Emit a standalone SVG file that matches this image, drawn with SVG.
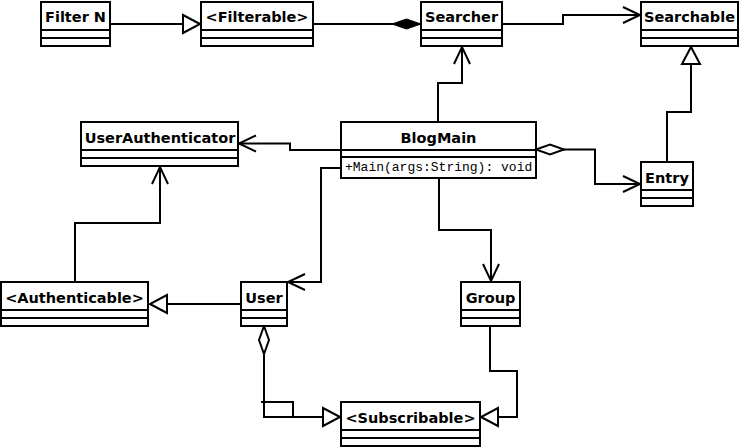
<svg xmlns="http://www.w3.org/2000/svg" width="740" height="448" viewBox="0 0 740 448">
<style>
.box{fill:#fff;stroke:#000;stroke-width:2}
.div{stroke:#000;stroke-width:2}
.name{font-family:"DejaVu Sans","Liberation Sans",sans-serif;font-weight:bold;font-size:14.5px;text-anchor:middle;fill:#000}
.op{font-family:"Liberation Mono","DejaVu Sans Mono",monospace;font-size:13px;fill:#000}
.edge{fill:none;stroke:#000;stroke-width:2}
</style>
<defs>
<marker id="open" markerUnits="userSpaceOnUse" viewBox="-20 -11 24 22" refX="0" refY="0" markerWidth="24" markerHeight="22" orient="auto" overflow="visible">
<path d="M-17,-8 L0,0 L-17,8" fill="none" stroke="#000" stroke-width="2"/>
</marker>
<marker id="tri" markerUnits="userSpaceOnUse" viewBox="-20 -11 24 22" refX="0" refY="0" markerWidth="24" markerHeight="22" orient="auto" overflow="visible">
<path d="M0,0 L-17,-9 L-17,9 Z" fill="#fff" stroke="#000" stroke-width="2"/>
</marker>
<marker id="diamondFilled" markerUnits="userSpaceOnUse" viewBox="-2 -7 32 14" refX="0" refY="0" markerWidth="32" markerHeight="14" orient="auto" overflow="visible">
<path d="M0,0 L14.5,-5 L29,0 L14.5,5 Z" fill="#000" stroke="#000" stroke-width="1"/>
</marker>
<marker id="diamondOpen" markerUnits="userSpaceOnUse" viewBox="-2 -7 32 14" refX="0" refY="0" markerWidth="32" markerHeight="14" orient="auto" overflow="visible">
<path d="M0,0 L14,-5 L28,0 L14,5 Z" fill="#fff" stroke="#000" stroke-width="2"/>
</marker>
</defs>
<rect width="740" height="448" fill="#fff"/>
<g id="connectors">
<path class="edge" d="M110,24 H200" marker-end="url(#tri)"/>
<path class="edge" d="M421,24 H313" marker-start="url(#diamondFilled)"/>
<path class="edge" d="M502,24 H563 V15 H640" marker-end="url(#open)"/>
<path class="edge" d="M438,122 V83 H462 V47" marker-end="url(#open)"/>
<path class="edge" d="M667,162 V112 H691 V47" marker-end="url(#tri)"/>
<path class="edge" d="M341,150 H290 V143.5 H239" marker-end="url(#open)"/>
<path class="edge" d="M536,149.5 H595 V184 H640" marker-start="url(#diamondOpen)" marker-end="url(#open)"/>
<path class="edge" d="M341,168 H321 V282 H288" marker-end="url(#open)"/>
<path class="edge" d="M439,178 V230 H491 V281" marker-end="url(#open)"/>
<path class="edge" d="M75,282 V223 H160 V167" marker-end="url(#open)"/>
<path class="edge" d="M241,304 H150" marker-end="url(#tri)"/>
<path class="edge" d="M264,326 V417 H340" marker-start="url(#diamondOpen)" marker-end="url(#tri)"/>
<path class="edge" d="M261,402 H293 V417"/>
<path class="edge" d="M490,326 V371 H517 V417 H481" marker-end="url(#tri)"/>
</g>
<g id="filter-n">
<rect class="box" x="41" y="2" width="69" height="44"/>
<line class="div" x1="41" y1="30" x2="110" y2="30"/>
<line class="div" x1="41" y1="38" x2="110" y2="38"/>
<text class="name" x="75.5" y="22">Filter N</text>
</g>
<g id="filterable">
<rect class="box" x="201" y="2" width="112" height="44"/>
<line class="div" x1="201" y1="30" x2="313" y2="30"/>
<line class="div" x1="201" y1="38" x2="313" y2="38"/>
<text class="name" x="257" y="22">&lt;Filterable&gt;</text>
</g>
<g id="searcher">
<rect class="box" x="421" y="2" width="81" height="44"/>
<line class="div" x1="421" y1="30" x2="502" y2="30"/>
<line class="div" x1="421" y1="38" x2="502" y2="38"/>
<text class="name" x="461.5" y="22">Searcher</text>
</g>
<g id="searchable">
<rect class="box" x="641" y="2" width="97" height="44"/>
<line class="div" x1="641" y1="30" x2="738" y2="30"/>
<line class="div" x1="641" y1="38" x2="738" y2="38"/>
<text class="name" x="689.5" y="22">Searchable</text>
</g>
<g id="user-authenticator">
<rect class="box" x="81" y="122" width="157" height="44"/>
<line class="div" x1="81" y1="150" x2="238" y2="150"/>
<line class="div" x1="81" y1="158" x2="238" y2="158"/>
<text class="name" x="160" y="142.5">UserAuthenticator</text>
</g>
<g id="blogmain">
<rect class="box" x="341" y="122" width="195" height="56"/>
<line class="div" x1="341" y1="150" x2="536" y2="150"/>
<line class="div" x1="341" y1="157" x2="536" y2="157"/>
<text class="name" x="438.5" y="142.5">BlogMain</text>
<text class="op" x="345" y="171">+Main(args:String): void</text>
</g>
<g id="entry">
<rect class="box" x="641" y="162" width="52" height="44"/>
<line class="div" x1="641" y1="190" x2="693" y2="190"/>
<line class="div" x1="641" y1="198" x2="693" y2="198"/>
<text class="name" x="667" y="182.5">Entry</text>
</g>
<g id="authenticable">
<rect class="box" x="1" y="282" width="147" height="44"/>
<line class="div" x1="1" y1="310" x2="148" y2="310"/>
<line class="div" x1="1" y1="318" x2="148" y2="318"/>
<text class="name" x="74.5" y="302.5">&lt;Authenticable&gt;</text>
</g>
<g id="user">
<rect class="box" x="241" y="282" width="46" height="44"/>
<line class="div" x1="241" y1="310" x2="287" y2="310"/>
<line class="div" x1="241" y1="318" x2="287" y2="318"/>
<text class="name" x="264" y="302.5">User</text>
</g>
<g id="group">
<rect class="box" x="461" y="282" width="59" height="44"/>
<line class="div" x1="461" y1="310" x2="520" y2="310"/>
<line class="div" x1="461" y1="318" x2="520" y2="318"/>
<text class="name" x="490.5" y="302.5">Group</text>
</g>
<g id="subscribable">
<rect class="box" x="341" y="402" width="139" height="44"/>
<line class="div" x1="341" y1="430" x2="480" y2="430"/>
<line class="div" x1="341" y1="438" x2="480" y2="438"/>
<text class="name" x="410.5" y="422.5">&lt;Subscribable&gt;</text>
</g>
</svg>
